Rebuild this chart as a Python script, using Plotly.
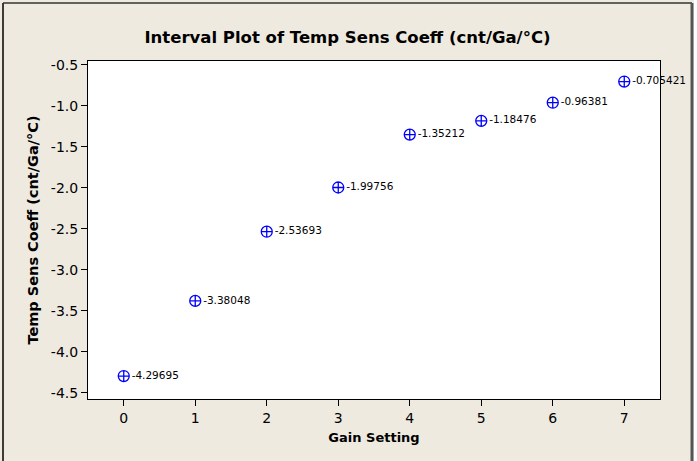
import plotly.graph_objects as go

gain = [0, 1, 2, 3, 4, 5, 6, 7]
coeff = [-4.29695, -3.38048, -2.53693, -1.99756, -1.35212, -1.18476, -0.96381, -0.705421]
labels = ["-4.29695", "-3.38048", "-2.53693", "-1.99756", "-1.35212", "-1.18476", "-0.96381", "-0.705421"]
y_ticks = [-0.5, -1.0, -1.5, -2.0, -2.5, -3.0, -3.5, -4.0, -4.5]

BG = "#EEEAE0"
FONT = "DejaVu Sans"

fig = go.Figure()
fig.add_trace(go.Scatter(
    x=gain, y=coeff, mode="markers+text",
    marker=dict(symbol="circle-cross-open", size=11, color="#0000FF", line=dict(width=1.3, color="#0000FF")),
    text=labels, textposition="middle right",
    textfont=dict(family=FONT, size=10.5, color="#000000"),
    cliponaxis=False, showlegend=False, hoverinfo="skip",
))

W, H = 697, 461
L, R, T, B = 88, 660, 61, 399
pw, ph = R - L, B - T
def px(x):
    return (x - L) / pw
def py(y):
    return (B - y) / ph

fig.update_layout(
    width=W, height=H,
    margin=dict(l=L, r=W - R, t=T, b=H - B, pad=0),
    paper_bgcolor=BG, plot_bgcolor="#FFFFFF",
    font=dict(family=FONT, color="#000000"),
    title=dict(text="<b>Interval Plot of Temp Sens Coeff (cnt/Ga/°C)</b>", x=347.5 / W, xanchor="center",
               y=1 - 37 / H, yanchor="middle", xref="container", yref="container",
               font=dict(family=FONT, size=16.5, color="#000000")),
    xaxis=dict(range=[-0.5, 7.5], tickvals=gain, ticktext=[str(g) for g in gain],
               ticks="outside", ticklen=6, tickcolor="#000000", tickwidth=1,
               showgrid=False, zeroline=False, showline=True, linecolor="#000000", linewidth=1,
               mirror=True, tickfont=dict(family=FONT, size=14),
               title=dict(text="<b>Gain Setting</b>", font=dict(family=FONT, size=13), standoff=8)),
    yaxis=dict(range=[-4.577, -0.455], tickvals=y_ticks, ticktext=[f"{v:.1f}" for v in y_ticks],
               ticks="outside", ticklen=6, tickcolor="#000000", tickwidth=1,
               showgrid=False, zeroline=False, showline=True, linecolor="#000000", linewidth=1,
               mirror=True, tickfont=dict(family=FONT, size=14),
               title=dict(text="<b>Temp Sens Coeff (cnt/Ga/°C)</b>", font=dict(family=FONT, size=14.5), standoff=8)),
    shapes=[
        dict(type="line", xref="paper", yref="paper", x0=px(3), x1=px(3), y0=py(3), y1=py(470),
             line=dict(color="#000000", width=1.5)),
        dict(type="line", xref="paper", yref="paper", x0=px(3), x1=px(692), y0=py(3), y1=py(3),
             line=dict(color="#333333", width=1.5)),
        dict(type="line", xref="paper", yref="paper", x0=px(692), x1=px(692), y0=py(3), y1=py(470),
             line=dict(color="#555555", width=3)),
        dict(type="rect", xref="paper", yref="paper", x0=px(694), x1=px(700), y0=py(0), y1=py(470),
             line=dict(width=0), fillcolor="#FFFFFF"),
    ],
)

fig.write_html("out.html", config={"displayModeBar": False},
               post_script="document.body.style.margin='0px';document.body.style.overflow='hidden';")
